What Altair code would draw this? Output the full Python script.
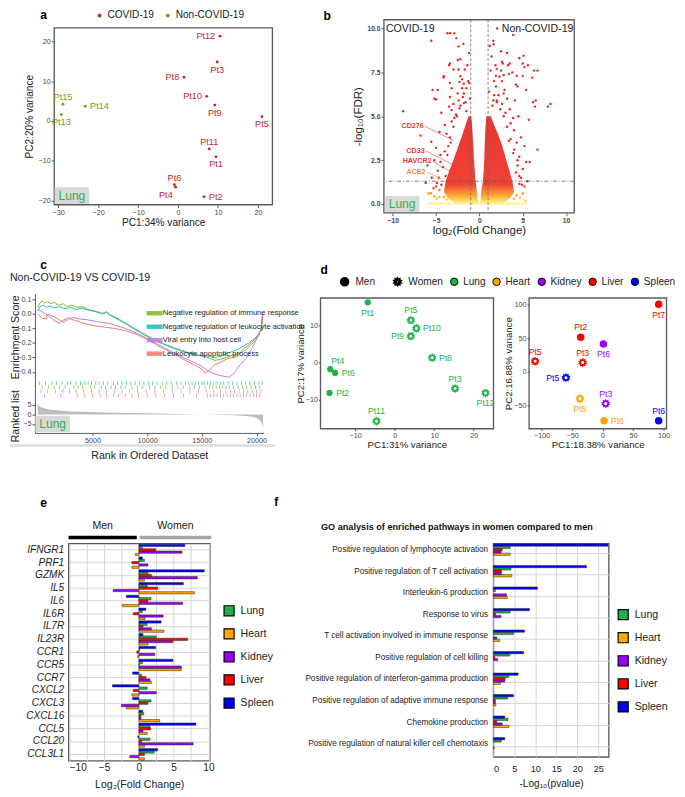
import math
import altair as alt
import pandas as pd

FONT = "Liberation Sans"
TISSUES = ["Lung", "Heart", "Kidney", "Liver", "Spleen"]
TCOLORS = ["#1db34a", "#ffa500", "#9b00ff", "#ff0000", "#0000ff"]
BAR_ORDER = ["Spleen", "Lung", "Liver", "Kidney", "Heart"]

# ---------------- panel a ----------------
a_pt = ["Pt12", "Pt3", "Pt8", "Pt10", "Pt9", "Pt5", "Pt11", "Pt1", "Pt6", "Pt4", "Pt2", "Pt15", "Pt14", "Pt13"]
a_pc1 = [10.5, 9.8, 1.5, 7.2, 9.2, 21.0, 7.8, 9.5, -0.9, -0.6, 6.5, -28.8, -23.2, -29.2]
a_pc2 = [21.3, 14.8, 11.0, 6.2, 4.0, 1.1, -7.0, -9.0, -16.0, -16.6, -19.0, 4.2, 3.7, 1.6]
a_group = ["COVID-19"] * 11 + ["Non-COVID-19"] * 3
a_side = ["left", "below", "left", "left", "below", "below", "above", "below", "above",
          "belowleft", "right", "above", "right", "below"]

# ---------------- panel b ----------------
volc_x = [-3.7, -3.4, -2.9, -5.55, -2.67, -2.4, -1.85, -2.5, -2.2, -3.4, -3.5, -3.0, -2.4, -1.7,
          -4.1, -4.15, -2.2, -1.3, -3.4, -2.3, -1.8, -1.2, -3.2, -2.5, -1.5, -1.8, -4.8, -5.0, -3.4, -3.0,
          -3.5, -2.4, -1.8, -2.3, -8.8, -4.4, -3.2, -2.7, -6.8, -5.55, -5.2, -5.4, -4.0, -4.6, -5.0, -4.5,
          -5.2, -6.0, -4.8, -5.5, -6.2, -5.0, -4.6, -1.2, -1.4, -2.0, -3.8, -3.6, -4.2, -3.9, -4.4, -5.3,
          -1.1, -1.5, -2.0, -3.2, -5.85, -5.6, -4.6, -4.1, -4.9, -3.8, -5.2,
          -4.7, -4.5, -4.0, -3.4, -3.0, -2.6, -4.9, -3.7, -3.3, -2.9, -2.2, -1.9, -1.6,
          2.04, 3.9, 1.6, 1.65, 2.5, 2.6, 2.7, 4.6, 5.0, 5.2, 5.1, 5.6, 6.7, 6.1, 1.85, 2.0, 2.5, 3.3, 3.5, 3.4,
          3.8, 4.3, 5.0, 6.3, 1.9, 2.3, 2.8, 2.6, 4.2, 5.4, 2.9, 2.8, 2.2, 1.9, 1.7, 4.4, 1.6, 2.0, 2.6, 6.2,
          7.9, 6.4, 8.2, 6.5, 3.5, 4.5, 5.7, 4.0, 4.8, 5.2, 6.7, 5.4, 5.8, 4.6, 5.0, 4.6, 5.2, 4.8, 3.9, 3.0,
          1.2, 1.4, 1.3, 1.1, 3.2, 4.1, 3.6, 4.3, 4.4, 3.2, 5.5, 4.2, 4.3, 4.7, 5.3, 4.0, 5.0,
          4.6, 4.4, 4.0, 3.6, 3.2, 2.8, 4.9, 3.9, 3.4, 2.4, 2.0, 1.7, 1.5]
volc_y = [9.73, 9.73, 9.72, 9.3, 9.45, 8.98, 9.12, 8.2, 8.25, 8.0, 7.9, 7.66, 7.66, 7.66,
          7.28, 7.2, 7.28, 7.0, 6.9, 6.95, 6.85, 6.9, 6.6, 6.3, 6.6, 6.3, 6.5, 5.95, 6.1, 5.7,
          5.55, 5.9, 5.75, 5.45, 5.29, 5.2, 5.35, 5.1, 3.9, 3.55, 6.0, 6.5, 4.5, 4.1, 3.2, 2.8,
          2.5, 2.2, 1.9, 1.5, 1.2, 1.0, 0.8, 8.6, 7.9, 7.1, 4.0, 3.3, 2.1, 1.6, 1.1, 0.9,
          6.0, 5.3, 6.6, 4.7, 0.6, 0.62, 0.4, 0.4, 0.3, 0.25, 0.45,
          1.5, 2.4, 3.0, 3.8, 4.4, 5.0, 1.2, 2.8, 3.5, 4.9, 5.6, 6.1, 5.8,
          10.0, 9.63, 9.3, 9.1, 8.7, 8.1, 8.0, 8.3, 8.0, 7.8, 8.45, 7.9, 7.6, 7.2, 7.9, 7.7, 7.6, 7.9, 8.0, 7.4,
          7.5, 7.3, 7.3, 7.6, 7.3, 7.25, 7.35, 7.0, 6.8, 6.5, 6.5, 6.3, 6.2, 6.7, 7.0, 6.7, 5.9, 5.8, 5.7, 5.8,
          5.55, 5.55, 5.7, 5.9, 5.4, 5.0, 4.8, 4.2, 3.8, 3.3, 3.1, 2.4, 2.4, 2.7, 2.0, 1.15, 1.0, 1.5, 4.9, 5.2,
          9.0, 8.4, 7.6, 6.4, 6.0, 5.9, 4.6, 3.5, 2.2, 8.6, 1.3, 1.8, 0.5, 0.35, 0.2, 0.3, 0.6,
          1.6, 2.5, 3.1, 3.7, 4.4, 5.0, 1.1, 2.9, 3.6, 5.4, 5.9, 6.2, 5.6]
wedge_side = ["down"] * 10 + ["up"] * 10
wedge_y = [0.05, 0.3, 0.7, 1.3, 2.0, 2.5, 3.2, 3.9, 4.5, 5.0] * 2
wedge_xl = [-2.8, -3.6, -4.1, -3.9, -3.4, -3.0, -2.5, -2.0, -1.6, -1.25,
            0.1, 0.15, 0.2, 0.4, 0.5, 0.55, 0.6, 0.65, 0.72, 0.8]
wedge_xr = [-0.15, -0.2, -0.3, -0.45, -0.55, -0.62, -0.7, -0.78, -0.85, -0.95,
            2.6, 3.5, 4.0, 3.8, 3.4, 3.1, 2.7, 2.2, 1.7, 1.3]
floor_x = [-6.0]
floor_x2 = [5.5]
floor_y = [0.03]
fc_cut = [-1.0, 1.0]
fdr_cut = [1.3]
gene_lab = ["CD276", "CD33", "HAVCR2", "ACE2"]
gene_tx = [-6.3, -6.2, -5.4, -6.1]
gene_ty = [4.43, 3.03, 2.43, 1.82]
gene_px = [-2.96, -3.03, -2.85, -4.25]
gene_py = [3.61, 2.24, 1.7, 1.42]
gene_kind = ["red", "red", "red", "orange"]

# ---------------- panel c ----------------
PATHS = ["Negative regulation of immune response", "Negative regulation of leukocyte activation",
         "Viral entry into host cell", "Leukocyte apoptotic process"]
PCOLS = ["#84b819", "#17bcc6", "#b77ee8", "#f4766d"]
es_green_r = [0, 150, 380, 600, 900, 1200, 1500, 1900, 2300, 2700, 3100, 3600, 4100, 4600, 5200, 5900, 6300,
              6600, 7500, 8500, 9500, 10500, 11500, 12500, 13500, 14500, 15500, 16200, 16800, 17300, 17800,
              18200, 18600, 19000, 19400, 19800, 20200, 20450, 20560]
es_green_v = [0.045, 0.07, 0.09, 0.075, 0.085, 0.07, 0.08, 0.06, 0.07, 0.05, 0.06, 0.045, 0.05, 0.03, 0.02,
              0.005, 0.015, -0.005, -0.04, -0.085, -0.13, -0.17, -0.205, -0.235, -0.26, -0.28, -0.3, -0.32,
              -0.31, -0.3, -0.285, -0.275, -0.265, -0.25, -0.22, -0.19, -0.15, -0.1, 0.0]
es_teal_r = [0, 200, 500, 800, 1100, 1500, 2000, 2500, 3000, 3500, 4000, 4700, 5300, 5900, 6300, 6600, 7500,
             8500, 9500, 10500, 11500, 12500, 13500, 14500, 15500, 16200, 16800, 17300, 17800, 18300, 18800,
             19300, 19800, 20200, 20450, 20560]
es_teal_v = [0.02, 0.05, 0.06, 0.045, 0.055, 0.04, 0.05, 0.035, 0.045, 0.03, 0.04, 0.025, 0.015, 0.0, 0.01,
             -0.01, -0.045, -0.09, -0.135, -0.175, -0.21, -0.24, -0.265, -0.285, -0.29, -0.3, -0.29, -0.27,
             -0.26, -0.245, -0.22, -0.2, -0.17, -0.14, -0.1, 0.0]
es_purple_r = [0, 300, 700, 1100, 1500, 2000, 2200, 2500, 2700, 3000, 3300, 3800, 4500, 5200, 6000, 6500,
               7000, 8000, 9000, 10000, 11000, 12000, 13000, 14000, 15000, 15500, 16000, 16500, 17000, 17500,
               17800, 18100, 18500, 19000, 19500, 19900, 20200, 20400, 20560]
es_purple_v = [0.03, 0.02, 0.0, -0.02, -0.045, -0.065, -0.05, -0.035, -0.045, -0.03, -0.025, -0.035, -0.04,
               -0.05, -0.06, -0.065, -0.075, -0.1, -0.13, -0.17, -0.21, -0.25, -0.29, -0.325, -0.36, -0.39,
               -0.41, -0.42, -0.43, -0.435, -0.42, -0.39, -0.35, -0.31, -0.25, -0.19, -0.14, -0.11, 0.0]
es_salmon_r = [0, 400, 820, 830, 1500, 2400, 2700, 3200, 4000, 5000, 6000, 7000, 8000, 9000, 10000, 11000,
               12000, 13000, 14000, 15000, 15300, 15700, 16200, 16800, 17300, 17800, 18300, 18800, 19200,
               19500, 19900, 20200, 20400, 20560]
es_salmon_v = [0.0, -0.03, -0.035, 0.0, -0.02, -0.06, -0.025, -0.04, -0.06, -0.08, -0.09, -0.1, -0.115,
               -0.14, -0.175, -0.22, -0.26, -0.3, -0.34, -0.38, -0.41, -0.385, -0.35, -0.33, -0.31, -0.3,
               -0.29, -0.24, -0.22, -0.2, -0.17, -0.14, -0.11, 0.0]
hit_teal = [150, 700, 1300, 1700, 2200, 2700, 3000, 3500, 3900, 4300, 4600, 4900, 5300, 5600, 6000, 6400,
            6900, 7300, 7700, 8100, 8500, 8900, 9300, 9700, 10100, 10500, 10900, 11400, 11800, 12200, 12700,
            13100, 13500, 13800, 14100, 14400, 14700, 15000, 15200, 15500, 15800, 16100, 16400, 16700, 17000,
            17400, 17800, 18200, 18600, 19000, 19400, 19800, 20200, 20500]
hit_green = [400, 1000, 1500, 2000, 2500, 3300, 3700, 4100, 4800, 5200, 5800, 6200, 6700, 7100, 7600, 8000,
             8600, 9100, 9600, 10200, 10700, 11200, 11700, 12300, 12800, 13300, 13900, 14300, 14800, 15300,
             15700, 16000, 16300, 16600, 16900, 17200, 17500, 17900, 18300, 18700, 19100, 19500, 19900, 20300]
hit_purple = [300, 900, 1600, 2300, 2900, 3500, 4200, 4900, 5600, 6300, 7000, 7700, 8400, 9100, 9900, 10700,
              11500, 12300, 13100, 13900, 14700, 15400, 16100, 16700, 17200, 17600, 18000, 18400, 18800,
              19200, 19600, 20000, 20400]
hit_salmon = [600, 2100, 3600, 4300, 5000, 5700, 6300, 6900, 7400, 8000, 8600, 9200, 10000, 10800, 11600,
              12400, 13300, 14500, 15500, 15800, 16100, 16400, 16700, 17000, 17300, 17600, 17900, 18200, 18500,
              18800, 19100, 19400, 19700, 20000, 20300]
rank_x = [0, 100, 300, 700, 1200, 2000, 3000, 4700, 7000, 9200, 12000, 15000, 17000, 18000, 19000, 19700,
          20100, 20350, 20500, 20600]
rank_v = [5.5, 4.6, 3.7, 3.0, 2.5, 2.0, 1.5, 1.2, 0.85, 0.7, 0.35, 0.0, -0.3, -0.5, -0.8, -1.3, -2.2, -3.5,
          -5.0, -7.5]

# ---------------- panel d ----------------
d1_pt = ["Pt1", "Pt5", "Pt10", "Pt9", "Pt8", "Pt3", "Pt12", "Pt11", "Pt4", "Pt6", "Pt2"]
d1_pc1 = [-6.8, 4.1, 5.5, 4.1, 9.5, 15.3, 23.0, -4.6, -16.3, -15.1, -16.5]
d1_pc2 = [16.2, 11.4, 9.2, 7.1, 1.3, -7.0, -8.2, -15.8, -1.8, -2.8, -8.2]
d1_sex = ["Men", "Women", "Women", "Women", "Women", "Women", "Women", "Women", "Men", "Men", "Men"]
d1_tissue = ["Lung"] * 11
d1_side = ["below", "above", "right", "left", "right", "above", "below", "above", "aboveright", "right", "right"]
d2_pt = ["Pt7", "Pt2", "Pt6", "Pt5", "Pt3", "Pt5", "Pt5", "Pt3", "Pt6", "Pt6"]
d2_tissue = ["Liver", "Liver", "Kidney", "Liver", "Liver", "Spleen", "Heart", "Kidney", "Heart", "Spleen"]
d2_sex = ["Men", "Men", "Men", "Women", "Women", "Women", "Women", "Women", "Men", "Men"]
d2_pc1 = [92, -35.8, 1.5, -110.5, -32.6, -60, -37, 5.2, 2.6, 92]
d2_pc2 = [100, 51.4, 41.4, 15.7, 13.8, -8.6, -39.6, -47, -72.4, -72.4]
d2_side = ["below", "above", "below", "above", "above", "left", "below", "above", "right", "above"]

# ---------------- panel e ----------------
GENES = ["IFNGR1", "PRF1", "GZMK", "IL5", "IL6", "IL6R", "IL7R", "IL23R", "CCR1", "CCR5", "CCR7",
         "CXCL2", "CXCL3", "CXCL16", "CCL5", "CCL20", "CCL3L1"]
e_spleen = [6.6, 0.5, 9.4, 6.4, -1.8, 1.0, 3.2, 0.6, 2.4, 4.9, -0.9, -3.8, -0.9, 0.55, 8.2, -0.15, 2.7]
e_lung = [0.5, 0.8, 1.3, 1.2, 1.75, 0.5, 1.2, 2.5, 0.1, 0.5, 0.4, 1.2, 1.75, 0.7, 1.6, 1.6, 2.2]
e_liver = [2.4, -1.0, 1.8, 2.7, 1.3, -0.8, 0.6, 7.0, -0.3, 0.05, 1.0, -0.8, 1.3, 0.3, 1.7, 0.4, 0.8]
e_kidney = [6.2, 1.3, 8.4, -3.7, 6.3, 3.5, 1.8, 4.9, 2.3, 6.1, 1.6, 2.5, -2.5, 0.3, 0.6, 7.8, -1.3]
e_heart = [-0.5, -1.0, 0.8, 8.0, -2.35, 0.9, 3.6, 1.3, -0.2, 6.1, 1.8, -1.0, -1.8, 3.0, 1.2, 0.8, 0.8]
sex_label = ["Men", "Women"]
sex_from = [-10.1, 0.1]
sex_to = [-0.3, 10.4]

# ---------------- panel f ----------------
PATHWAYS = ["Positive regulation of lymphocyte activation", "Positive regulation of T cell activation",
            "Interleukin-6 production", "Response to virus", "T cell activation involved in immune response",
            "Positive regulation of  cell killing", "Positive regulation of interferon-gamma production",
            "Positive regulation of adaptive immune response", "Chemokine production",
            "Positive regulation of natural killer cell chemotaxis"]
f_spleen = [27.3, 22.2, 10.5, 8.6, 7.4, 7.2, 5.9, 4.8, 2.7, 2.7]
f_lung = [4.0, 4.2, 0.5, 4.0, 4.8, 3.9, 3.7, 3.4, 3.5, 1.85]
f_liver = [2.1, 1.9, 0.0, 0.5, 0.0, 0.3, 2.8, 0.45, 0.8, 0.0]
f_kidney = [1.85, 1.9, 3.1, 1.8, 0.8, 1.0, 2.7, 0.45, 2.1, 0.0]
f_heart = [4.0, 4.4, 3.3, 0.0, 1.5, 0.0, 1.7, 0.6, 3.7, 0.2]


def star_path(n=10, r_out=1.0, r_in=0.68, hole=0.32):
    pts = []
    for i in range(2 * n):
        r = r_out if i % 2 == 0 else r_in
        ang = math.pi * i / n - math.pi / 2
        pts.append((r * math.cos(ang), r * math.sin(ang)))
    d = "M" + " L".join(f"{x:.3f},{y:.3f}" for x, y in pts) + " Z"
    d += f" M0,{-hole} A{hole},{hole} 0 1,0 0,{hole} A{hole},{hole} 0 1,0 0,{-hole} Z"
    return d


STAR = star_path()
BAND = "M-2,-0.1H2V0.1H-2Z"
NOFRAME = alt.ViewBackground(stroke="transparent")


def axis(title, values, **kw):
    base = dict(title=title, values=values, labelFontSize=7.5, labelColor="#444444", tickSize=3,
                tickColor="#555555", domain=False, grid=False, titleFontSize=10.5,
                titleFontWeight="normal", titleColor="#222222", labelPadding=1)
    base.update(kw)
    return alt.Axis(**base)


def plabel(ch, x, y):
    return alt.Chart(pd.DataFrame({"t": [ch]})).mark_text(
        fontWeight="bold", fontSize=12.5, baseline="middle", color="black").encode(
        text="t:N", x=alt.value(x), y=alt.value(y))


def lung_box(x0, x1, y0, y1):
    d = pd.DataFrame({"t": ["Lung"]})
    box = alt.Chart(d).mark_rect(color="#d9d9d9").encode(
        x=alt.value(x0), x2=alt.value(x1), y=alt.value(y0), y2=alt.value(y1))
    txt = alt.Chart(d).mark_text(color="#2fb34a", fontSize=12.5, baseline="middle").encode(
        text="t:N", x=alt.value((x0 + x1) / 2), y=alt.value((y0 + y1) / 2))
    return [box, txt]


def side_labels(base, offsets, size):
    out = []
    for side, (dx, dy, al) in offsets.items():
        out.append(base.transform_filter(alt.datum.side == side).mark_text(
            dx=dx, dy=dy, align=al, baseline="middle", fontSize=size).encode(text="pt:N"))
    return out


SIDES_A = {"above": (0, -7, "center"), "below": (0, 8, "center"), "left": (-5, 0, "right"),
           "right": (5, 0, "left"), "belowleft": (-3, 8, "right")}
SIDES_D = {"above": (0, -10, "center"), "below": (0, 11, "center"), "left": (-7, 0, "right"),
           "right": (7, 0, "left"), "aboveright": (1, -8, "left")}

# ================= panel a =================
a_df = pd.DataFrame(dict(pt=a_pt, pc1=a_pc1, pc2=a_pc2, grp=a_group, side=a_side))
a_col = alt.Color("grp:N", scale=alt.Scale(domain=["COVID-19", "Non-COVID-19"], range=["#c1272d", "#6aa121"]),
                  legend=alt.Legend(orient="none", legendX=42, legendY=-18, direction="horizontal", title=None,
                                    symbolType="circle", symbolSize=16, labelFontSize=10.5, columnPadding=9,
                                    labelOffset=3, labelColor="#222222", gridAlign="none"))
a_base = alt.Chart(a_df).encode(
    x=alt.X("pc1:Q", scale=alt.Scale(domain=[-31, 23.6], nice=False, zero=False),
            axis=axis("PC1:34% variance", [-30, -20, -10, 0, 10, 20], titlePadding=2)),
    y=alt.Y("pc2:Q", scale=alt.Scale(domain=[-21, 23.4], nice=False, zero=False),
            axis=axis("PC2:20% variance", [-20, -10, 0, 10, 20], titlePadding=4)),
    color=a_col)
panel_a = alt.layer(a_base.mark_circle(size=9, opacity=1), *side_labels(a_base, SIDES_A, 9.5),
                    *lung_box(0.5, 36.5, 166, 183.3), plabel("a", -11, -13)).properties(width=227, height=184)

# ================= panel b =================
b_xs = alt.Scale(domain=[-11.03, 10.93], nice=False, zero=False)
b_ys = alt.Scale(domain=[-0.5, 10.5], nice=False, zero=False)
b_xax = axis("log\u2082(Fold Change)", [-10, -5, 0, 5, 10], labelFontWeight="bold", labelFontSize=7,
             titleFontSize=12, titlePadding=1)
b_yax = axis("-log\u2081\u2080(FDR)", [0, 2.5, 5, 7.5, 10], format=".1f", labelFontWeight="bold",
             labelFontSize=7, titleFontSize=12, titlePadding=3)
grad = alt.LinearGradient(gradient="linear", x1=0, x2=0, y1=1, y2=0, stops=[
    alt.GradientStop(offset=0, color="#fff27a"), alt.GradientStop(offset=0.08, color="#ffa726"),
    alt.GradientStop(offset=0.22, color="#ee3124"), alt.GradientStop(offset=1, color="#e8231f")])
wedge = alt.Chart(pd.DataFrame(dict(side=wedge_side, y=wedge_y, xl=wedge_xl, xr=wedge_xr))).mark_area(
    orient="horizontal", color=grad, opacity=0.92).encode(
    y=alt.Y("y:Q", scale=b_ys, axis=b_yax), x=alt.X("xl:Q", scale=b_xs, axis=b_xax), x2="xr:Q", detail="side:N")
floor = alt.Chart(pd.DataFrame(dict(x=floor_x, x2=floor_x2, y=floor_y))).mark_rule(
    color="#fff59d", strokeWidth=2.5).encode(x=alt.X("x:Q", scale=b_xs, axis=b_xax), x2="x2:Q",
                                             y=alt.Y("y:Q", scale=b_ys, axis=b_yax))
vpts = alt.Chart(pd.DataFrame(dict(x=volc_x, y=volc_y))).mark_circle(size=6, opacity=1).encode(
    x=alt.X("x:Q", scale=b_xs, axis=b_xax), y=alt.Y("y:Q", scale=b_ys, axis=b_yax),
    color=alt.Color("y:Q", scale=alt.Scale(domain=[0, 0.5, 1.1], range=["#ffe94a", "#ff9d1c", "#e8231f"],
                                           clamp=True), legend=None))
vcut = alt.Chart(pd.DataFrame(dict(v=fc_cut))).mark_rule(color="#666666", strokeDash=[3, 2], strokeWidth=0.8).encode(
    x=alt.X("v:Q", scale=b_xs, axis=b_xax))
hcut = alt.Chart(pd.DataFrame(dict(v=fdr_cut))).mark_rule(color="#555555", strokeDash=[4, 2, 1, 2],
                                                          strokeWidth=0.8).encode(y=alt.Y("v:Q", scale=b_ys, axis=b_yax))
g_df = pd.DataFrame(dict(g=gene_lab, tx=gene_tx, ty=gene_ty, px=gene_px, py=gene_py, kind=gene_kind))
gcol = alt.Color("kind:N", scale=alt.Scale(domain=["red", "orange"], range=["#dd3b36", "#f0883a"]), legend=None)
glines = alt.Chart(g_df).mark_rule(strokeWidth=0.6).encode(
    x=alt.X("tx:Q", scale=b_xs, axis=b_xax), y=alt.Y("ty:Q", scale=b_ys, axis=b_yax), x2="px:Q", y2="py:Q",
    color=gcol)
gtext = alt.Chart(g_df).mark_text(align="right", baseline="middle", dx=-1, fontSize=7.5, fontWeight="bold").encode(
    x=alt.X("tx:Q", scale=b_xs, axis=b_xax), y=alt.Y("ty:Q", scale=b_ys, axis=b_yax), text="g:N", color=gcol)
b_ann = alt.Chart(pd.DataFrame({"t": ["COVID-19", "Non-COVID-19"]}))
b_t1 = b_ann.transform_filter(alt.datum.t == "COVID-19").mark_text(fontSize=11, color="#222222").encode(
    text="t:N", x=alt.value(27.5), y=alt.value(9.5))
b_t2 = b_ann.transform_filter(alt.datum.t == "Non-COVID-19").mark_text(fontSize=11, color="#222222").encode(
    text="t:N", x=alt.value(160), y=alt.value(9.5))
panel_b = alt.layer(floor, wedge, vpts, vcut, hcut, glines, gtext, b_t1, b_t2,
                    *lung_box(1, 37, 183.5, 200), plabel("b", -59, -4)).properties(width=198, height=201)

# ================= panel c =================
C_W, C_H = 238, 145
es_df = pd.concat([
    pd.DataFrame(dict(rank=es_green_r, es=es_green_v, pathway=PATHS[0])),
    pd.DataFrame(dict(rank=es_teal_r, es=es_teal_v, pathway=PATHS[1])),
    pd.DataFrame(dict(rank=es_purple_r, es=es_purple_v, pathway=PATHS[2])),
    pd.DataFrame(dict(rank=es_salmon_r, es=es_salmon_v, pathway=PATHS[3]))])
hit_df = pd.concat([
    pd.DataFrame(dict(rank=hit_green, pathway=PATHS[0])),
    pd.DataFrame(dict(rank=hit_teal, pathway=PATHS[1])),
    pd.DataFrame(dict(rank=hit_purple, pathway=PATHS[2])),
    pd.DataFrame(dict(rank=hit_salmon, pathway=PATHS[3]))])
rank_df = pd.DataFrame(dict(rank=rank_x, metric=rank_v))
c_x = alt.X("rank:Q", scale=alt.Scale(domain=[-264, 20650], nice=False, zero=False),
            axis=axis("Rank in Ordered Dataset", [5000, 10000, 15000, 20000], format="d", domain=True,
                      domainColor="#555555", titleFontSize=11, titlePadding=6))
c_col = alt.Color("pathway:N", scale=alt.Scale(domain=PATHS, range=PCOLS),
                  legend=alt.Legend(orient="none", legendX=119, legendY=15, title=None, symbolType=BAND,
                                    symbolStrokeWidth=4, symbolSize=40, labelFontSize=7.9, rowPadding=-4.5,
                                    labelLimit=260, labelOffset=3, labelColor="#222222"))
es_line = alt.Chart(es_df).mark_line(strokeWidth=1).encode(
    x=c_x,
    y=alt.Y("es:Q", scale=alt.Scale(domain=[-0.82, 0.14], nice=False, zero=False),
            axis=axis("Enrichment Score", [-0.4, -0.3, -0.2, -0.1, 0.0, 0.1], format=".1f", domain=True,
                      domainColor="#555555", titleFontSize=11, titleX=-15, titleY=45, orient="left")),
    color=c_col)
hits = alt.Chart(hit_df).mark_tick(thickness=0.8, size=4, opacity=0.85).encode(
    x=c_x,
    y=alt.Y("pathway:N", scale=alt.Scale(domain=[PATHS[1], PATHS[0], PATHS[2], PATHS[3]], range=[91, 108],
                                         paddingInner=0, paddingOuter=0), axis=None),
    color=c_col)
ranked = alt.Chart(rank_df).mark_area(color="#bdbdbd").encode(
    x=c_x,
    y=alt.Y("metric:Q", scale=alt.Scale(domain=[-9.7, 8.4], range=[145, 109], nice=False, zero=False),
            axis=axis("Ranked list", [-5, 0, 5], titleFontSize=11, titleX=-15, orient="left")))
c_title = alt.Chart(pd.DataFrame({"t": ["Non-COVID-19 VS COVID-19"]})).mark_text(
    align="left", baseline="middle", fontSize=11, color="#222222").encode(
    text="t:N", x=alt.value(-26), y=alt.value(-16))
c_rule = alt.Chart(pd.DataFrame({"t": [0]})).mark_rule(color="#dddddd", strokeWidth=2.5).encode(
    x=alt.value(-26), x2=alt.value(250), y=alt.value(158))
panel_c = alt.layer(es_line, ranked, hits, *lung_box(0.5, 36.5, 127, 144), c_title, c_rule,
                    plabel("c", 9, -30)).resolve_scale(y="independent").properties(
    width=C_W, height=C_H, view=NOFRAME)

# ================= panel d =================
d_shape_scale = alt.Scale(domain=["Men", "Women"], range=["circle", STAR])
d_col_scale = alt.Scale(domain=TISSUES, range=TCOLORS)
shape_legend = alt.Legend(orient="none", legendX=20, legendY=-22, direction="horizontal", title=None,
                          symbolFillColor="black", symbolStrokeColor="black", symbolSize=70,
                          labelFontSize=10.5, columnPadding=16, labelOffset=6, labelColor="#222222",
                          gridAlign="none")
d1_df = pd.DataFrame(dict(pt=d1_pt, pc1=d1_pc1, pc2=d1_pc2, sex=d1_sex, tissue=d1_tissue, side=d1_side))
d1_base = alt.Chart(d1_df).encode(
    x=alt.X("pc1:Q", scale=alt.Scale(domain=[-18.8, 25], nice=False, zero=False),
            axis=axis("PC1:31% variance", [-10, 0, 10, 20], tickSize=2, labelPadding=1, titleFontSize=10,
                      titlePadding=1)),
    y=alt.Y("pc2:Q", scale=alt.Scale(domain=[-17.8, 17.4], nice=False, zero=False),
            axis=axis("PC2:17% variance", [-10, 0, 10], tickSize=2, labelPadding=1, titleFontSize=10,
                      titlePadding=0)),
    color=alt.Color("tissue:N", scale=d_col_scale,
                    legend=alt.Legend(orient="none", legendX=134, legendY=-22, direction="horizontal",
                                      title=None, symbolType="circle", symbolStrokeColor="black",
                                      symbolStrokeWidth=1, symbolSize=60, labelFontSize=10.5, columnPadding=5,
                                      labelOffset=4, labelColor="#222222", gridAlign="none")),
    shape=alt.Shape("sex:N", scale=d_shape_scale, legend=shape_legend))
d1_men = d1_base.transform_filter(alt.datum.sex == "Men").mark_point(filled=True, opacity=1, size=42)
d1_women = d1_base.transform_filter(alt.datum.sex == "Women").mark_point(filled=True, opacity=1, size=95)
panel_d1 = alt.layer(d1_men, d1_women, *side_labels(d1_base, SIDES_D, 9), plabel("d", 4, -29)).properties(
    width=180, height=136)

d2_df = pd.DataFrame(dict(pt=d2_pt, pc1=d2_pc1, pc2=d2_pc2, sex=d2_sex, tissue=d2_tissue, side=d2_side))
d2_base = alt.Chart(d2_df).encode(
    x=alt.X("pc1:Q", scale=alt.Scale(domain=[-120.6, 104.7], nice=False, zero=False),
            axis=axis("PC1:18.38% variance", [-100, -50, 0, 50, 100], tickSize=2, labelPadding=1,
                      titleFontSize=10, titlePadding=1)),
    y=alt.Y("pc2:Q", scale=alt.Scale(domain=[-84, 109.5], nice=False, zero=False),
            axis=axis("PC2:16.88% variance", [-50, 0, 50, 100], tickSize=2, labelPadding=1, titleFontSize=10,
                      titlePadding=0)),
    color=alt.Color("tissue:N", scale=d_col_scale, legend=None),
    shape=alt.Shape("sex:N", scale=d_shape_scale, legend=None))
d2_men = d2_base.transform_filter(alt.datum.sex == "Men").mark_point(filled=True, opacity=1, size=60)
d2_women = d2_base.transform_filter(alt.datum.sex == "Women").mark_point(filled=True, opacity=1, size=100)
panel_d2 = alt.layer(d2_men, d2_women, *side_labels(d2_base, SIDES_D, 9)).properties(width=143, height=136)

# ================= panel e =================
e_df = pd.concat([pd.DataFrame(dict(gene=GENES, tissue=t, value=v)) for t, v in
                  zip(TISSUES, [e_lung, e_heart, e_kidney, e_liver, e_spleen])])
e_xs = alt.Scale(domain=[-10.1, 10.2], nice=False, zero=False)
e_xax = alt.Axis(title="Log\u2082(Fold Change)", values=[-10, -7.5, -5, -2.5, 0, 2.5, 5, 7.5, 10],
                 labelExpr="datum.value % 5 == 0 ? datum.label : ''", grid=True, gridColor="#d4d4d4",
                 ticks=False, domain=False, labelFontSize=10.5, labelColor="#222222", labelPadding=2,
                 titleFontSize=11, titleFontWeight="normal", titleColor="#222222", titlePadding=6)
tis_legend = dict(orient="none", title=None, symbolType="square", symbolSize=110, symbolStrokeColor="black",
                  symbolStrokeWidth=1.2, labelFontSize=11, rowPadding=8, labelOffset=6, labelColor="#222222")
e_bars = alt.Chart(e_df).mark_bar(stroke="#222222", strokeWidth=0.5).encode(
    y=alt.Y("gene:N", sort=GENES, scale=alt.Scale(paddingInner=0.1, paddingOuter=0.05),
            axis=alt.Axis(title=None, grid=True, gridColor="#d4d4d4", ticks=False, domain=False,
                          labelFontStyle="italic", labelFontSize=10.5, labelColor="#222222", labelPadding=5)),
    yOffset=alt.YOffset("tissue:N", sort=BAR_ORDER, scale=alt.Scale(domain=BAR_ORDER)),
    x=alt.X("value:Q", scale=e_xs, axis=e_xax),
    color=alt.Color("tissue:N", scale=alt.Scale(domain=TISSUES, range=TCOLORS),
                    legend=alt.Legend(legendX=161, legendY=64, **tis_legend)))
sx_df = pd.DataFrame(dict(sex=sex_label, x0=sex_from, x1=sex_to))
hdr_layers = []
for s, c in zip(sex_label, ["#000000", "#a6a6a6"]):
    sub = alt.Chart(sx_df).transform_filter(alt.datum.sex == s)
    hdr_layers.append(sub.mark_rect(color=c).encode(
        x=alt.X("x0:Q", scale=e_xs, axis=e_xax), x2="x1:Q", y=alt.value(-8), y2=alt.value(-4.5)))
hdr_text = alt.Chart(sx_df).transform_calculate(mid="(datum.x0 + datum.x1) / 2").mark_text(
    fontSize=11, baseline="middle", color="#222222").encode(
    x=alt.X("mid:Q", scale=e_xs, axis=e_xax), y=alt.value(-18), text="sex:N")
panel_e = alt.layer(e_bars, *hdr_layers, hdr_text, plabel("e", -26, -42)).properties(width=147, height=226)

# ================= panel f =================
f_df = pd.concat([pd.DataFrame(dict(path=PATHWAYS, tissue=t, value=v)) for t, v in
                  zip(TISSUES, [f_lung, f_heart, f_kidney, f_liver, f_spleen])])
f_bars = alt.Chart(f_df).transform_filter("datum.value > 0").mark_bar(stroke="#222222", strokeWidth=0.5).encode(
    y=alt.Y("path:N", sort=PATHWAYS, scale=alt.Scale(domain=PATHWAYS, paddingInner=0.12, paddingOuter=0.02),
            axis=alt.Axis(title=None, grid=True, gridColor="#d4d4d4", ticks=False, domain=False,
                          labelFontSize=8.5, labelColor="#222222", labelPadding=6, labelLimit=320,
                          labelOffset=-4)),
    yOffset=alt.YOffset("tissue:N", sort=BAR_ORDER, scale=alt.Scale(domain=BAR_ORDER)),
    x=alt.X("value:Q", scale=alt.Scale(domain=[0, 27.5], nice=False, zero=False),
            axis=alt.Axis(title="-Log\u2081\u2080(pvalue)", values=[0, 5, 10, 15, 20, 25], grid=True,
                          gridColor="#d4d4d4", ticks=False, domain=False, labelFontSize=9.5,
                          labelColor="#222222", labelPadding=7, titleFontSize=10.5, titleFontWeight="normal",
                          titleColor="#222222", titlePadding=6)),
    color=alt.Color("tissue:N", scale=alt.Scale(domain=TISSUES, range=TCOLORS),
                    legend=alt.Legend(legendX=129, legendY=68, **tis_legend)))
f_title = alt.Chart(pd.DataFrame({"t": ["GO analysis of enriched pathways in women compared to men"]})).mark_text(
    fontSize=9.5, fontWeight="bold", baseline="middle", color="#111111").encode(
    text="t:N", x=alt.value(-38), y=alt.value(-17))
panel_f = alt.layer(f_bars, f_title, plabel("f", -226, -43)).properties(width=120, height=222)


# ================= layout =================
def sp(w, h):
    return alt.Chart(pd.DataFrame({"v": [0]})).mark_point(opacity=0, size=0).encode(
        x=alt.value(0), y=alt.value(0)).properties(width=w, height=h, view=NOFRAME)


RES = dict(color="independent", shape="independent")
row1 = alt.hconcat(sp(20, 0), panel_a, sp(116, 0), panel_b, spacing=0, bounds="flush",
                   center=True).resolve_scale(**RES)
row2 = alt.hconcat(panel_c, sp(59, 0), panel_d1, sp(37, 0), panel_d2, spacing=0, bounds="flush",
                   center=True).resolve_scale(**RES)
row3 = alt.hconcat(sp(35, 0), panel_e, sp(295, 0), panel_f, spacing=0, bounds="flush").resolve_scale(**RES)

top = alt.vconcat(row1, row2, spacing=23).resolve_scale(**RES)
chart = alt.vconcat(top, row3, spacing=35).resolve_scale(**RES).properties(
    padding={"top": -16, "left": 0, "right": 0, "bottom": 0}).configure(font=FONT).configure_view(
    stroke="#5a5a5a", strokeWidth=1.4)

chart.save("out.html", embed_options={"renderer": "svg", "actions": False})
